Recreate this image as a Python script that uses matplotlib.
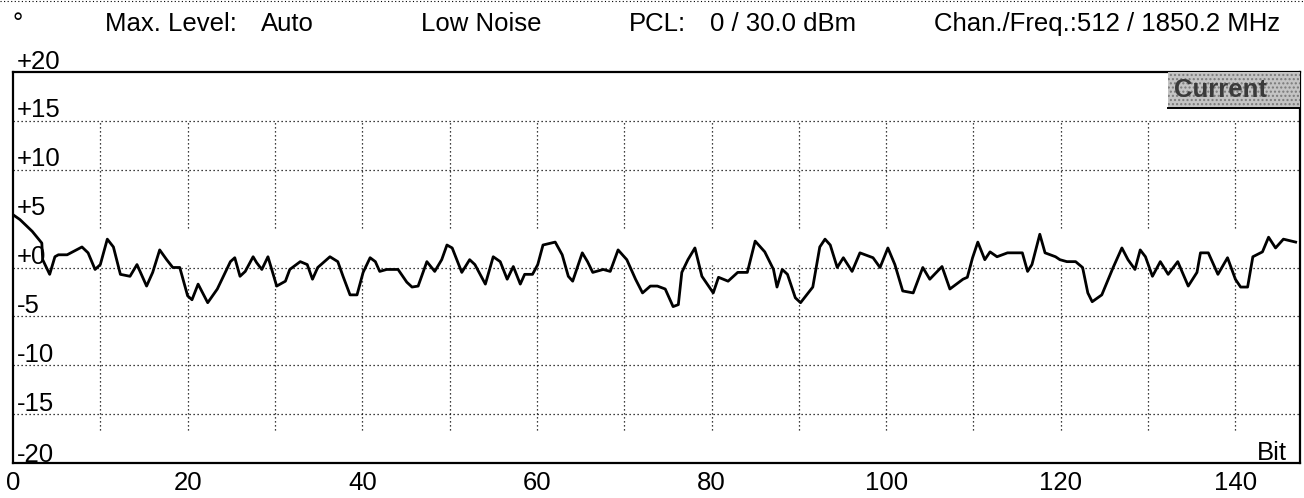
import numpy as np
import matplotlib.pyplot as plt
from matplotlib.patches import Rectangle
from matplotlib.lines import Line2D

plt.rcParams['font.family'] = ['Liberation Sans', 'DejaVu Sans']

# trace: bit position and level
bit = [0.0, 0.8, 2.2, 3.3, 3.4, 4.2, 4.8, 5.2, 6.2, 7.9, 8.6, 9.4, 10.0, 10.8, 11.5,
       12.3, 13.4, 14.2, 15.3, 16.0, 16.8, 17.6, 18.3, 19.1, 20.0, 20.5, 21.2, 22.3,
       23.4, 24.9, 25.4, 26.0, 26.6, 27.5, 27.9, 28.5, 29.2, 30.2, 31.2, 31.7, 32.9,
       33.7, 34.3, 34.9, 36.3, 37.2, 37.8, 38.6, 39.4, 40.1, 40.9, 41.5, 42.0, 42.8,
       44.1, 45.1, 45.7, 46.4, 47.4, 48.3, 49.1, 49.7, 50.3, 51.4, 52.3, 52.9, 54.1,
       55.0, 55.8, 56.6, 57.3, 58.1, 58.6, 59.5, 60.1, 60.7, 62.1, 62.9, 63.6, 64.1,
       65.2, 65.8, 66.4, 67.6, 68.4, 69.3, 70.3, 71.3, 72.1, 73.0, 73.8, 74.7, 75.6,
       76.2, 76.6, 77.3, 78.1, 78.9, 80.2, 80.8, 81.9, 83.0, 84.1, 85.0, 86.1, 87.1,
       87.5, 88.1, 88.7, 89.6, 90.2, 91.6, 92.4, 93.0, 93.6, 94.4, 95.1, 96.1, 97.0,
       98.5, 99.3, 100.2, 101.0, 101.9, 103.1, 104.2, 105.0, 106.4, 107.3, 108.8,
       109.3, 109.9, 110.5, 111.3, 111.9, 112.7, 113.9, 114.5, 115.6, 116.2, 116.7,
       117.6, 118.2, 119.4, 119.9, 120.7, 121.7, 122.5, 123.1, 123.6, 124.7, 126.0,
       127.0, 127.7, 128.5, 129.1, 129.7, 130.5, 131.4, 132.3, 133.4, 134.6, 135.6,
       136.0, 136.9, 138.0, 139.1, 140.0, 140.6, 141.4, 142.0, 143.1, 143.8, 144.6,
       145.5, 146.9]
level = [5.4, 4.9, 3.7, 2.5, 0.8, -0.7, 1.1, 1.3, 1.3, 2.1, 1.5, -0.2, 0.3, 2.9, 2.1,
         -0.7, -0.9, 0.3, -1.9, -0.5, 1.8, 0.8, 0.0, 0.0, -2.9, -3.3, -1.7, -3.6,
         -2.2, 0.6, 1.0, -0.9, -0.4, 1.1, 0.5, -0.2, 1.1, -1.9, -1.4, -0.2, 0.6,
         0.3, -1.2, 0.0, 1.1, 0.6, -0.9, -2.8, -2.8, -0.5, 1.0, 0.6, -0.4, -0.2,
         -0.2, -1.5, -2.0, -1.9, 0.6, -0.4, 0.8, 2.3, 2.0, -0.5, 0.8, 0.3, -1.7,
         1.1, 0.6, -1.2, 0.1, -1.7, -0.7, -0.7, 0.3, 2.3, 2.6, 1.3, -0.9, -1.4,
         1.5, 0.6, -0.5, -0.2, -0.4, 1.8, 0.8, -1.2, -2.6, -1.9, -1.9, -2.2, -4.0,
         -3.8, -0.5, 0.8, 2.0, -0.9, -2.6, -1.0, -1.4, -0.5, -0.5, 2.7, 1.6, -0.2,
         -2.0, -0.2, -0.7, -3.1, -3.6, -2.0, 2.1, 2.9, 2.3, 0.0, 1.0, -0.4, 1.5,
         1.0, 0.0, 2.0, 0.3, -2.4, -2.6, 0.0, -1.2, 0.1, -2.2, -1.2,
         -1.0, 1.0, 2.6, 0.8, 1.6, 1.1, 1.5, 1.5, 1.5, -0.4, 0.3,
         3.4, 1.5, 1.1, 0.8, 0.6, 0.6, 0.0, -2.6, -3.5, -2.8, 0.0,
         2.0, 0.8, -0.2, 1.8, 1.1, -0.9, 0.6, -0.7, 0.6, -1.9, -0.5,
         1.5, 1.5, -0.7, 1.0, -1.2, -2.0, -2.0, 1.1, 1.6, 3.1, 2.0,
         2.9, 2.6]

y_values = [20, 15, 10, 5, 0, -5, -10, -15, -20]
y_labels = ['+20', '+15', '+10', '+5', '+0', '-5', '-10', '-15', '-20']
x_ticks = [0, 20, 40, 60, 80, 100, 120, 140]
grid_x = [10, 20, 30, 40, 50, 60, 70, 80, 90, 100, 110, 120, 130, 140]
grid_y = [15, 10, 0, -5, -10, -15]

header_texts = ['°', 'Max. Level:', 'Auto', 'Low Noise', 'PCL:', '0 / 30.0 dBm',
                'Chan./Freq.:512 / 1850.2 MHz']
header_x = [12, 105, 261, 421, 629, 710, 934]   # left edge in pixels

W, H = 1304, 498
fs = 18.5
fig = plt.figure(figsize=(W / 100, H / 100), dpi=100)
ax = fig.add_axes([13 / W, 35 / H, 1287 / W, 391 / H])
ax.set_xlim(0, 147.4)
ax.set_ylim(-20, 20)

# dotted grid (vertical lines stop short and have a gap round the trace)
dots = (0, (1, 2.2))
for g in grid_y:
    ax.axhline(g, color='black', lw=0.9, ls=dots)
for g in grid_x:
    ax.plot([g, g], [-16.6, 0.3], color='black', lw=0.9, ls=dots)
    ax.plot([g, g], [4.0, 15], color='black', lw=0.9, ls=dots)

ax.plot(bit, level, color='black', lw=2.0)

# y labels sit inside the plot, just above their level
for v, lab in zip(y_values, y_labels):
    off = 0.1 if v == -20 else 0.35
    ax.text(0.003, v + off, lab, transform=ax.get_yaxis_transform(), fontsize=fs,
            ha='left', va='baseline', clip_on=False)
ax.set_yticks([])

ax.set_xticks(x_ticks)
ax.set_xticklabels([str(t) for t in x_ticks], fontsize=fs)
ax.tick_params(axis='x', length=0, pad=6)

for s in ax.spines.values():
    s.set_linewidth(1.6)

ax.text(0.99, 0.008, 'Bit', transform=ax.transAxes, fontsize=fs, ha='right', va='baseline')

# "Current" marker box
ax.add_patch(Rectangle((0.8975, 0.908), 0.1025, 0.092, transform=ax.transAxes,
                       facecolor='#c4c4c4', edgecolor='#7a7a7a', hatch='....', lw=0, zorder=3))
ax.plot([0.8975, 1.0], [0.908, 0.908], transform=ax.transAxes, color='black', lw=1.4, zorder=4)
ax.text(0.9386, 0.936, 'Current', transform=ax.transAxes, fontsize=fs, fontweight='bold',
        color='#3a3a3a', ha='center', va='baseline', zorder=5)

# header line above the plot
for txt, px in zip(header_texts, header_x):
    fig.text(px / W, 1 - 31 / H, txt, fontsize=fs, ha='left', va='baseline')
fig.add_artist(Line2D([0, 1], [0.998, 0.998], color='black', lw=0.8, ls=dots))

fig.savefig('out.png', dpi=100)
